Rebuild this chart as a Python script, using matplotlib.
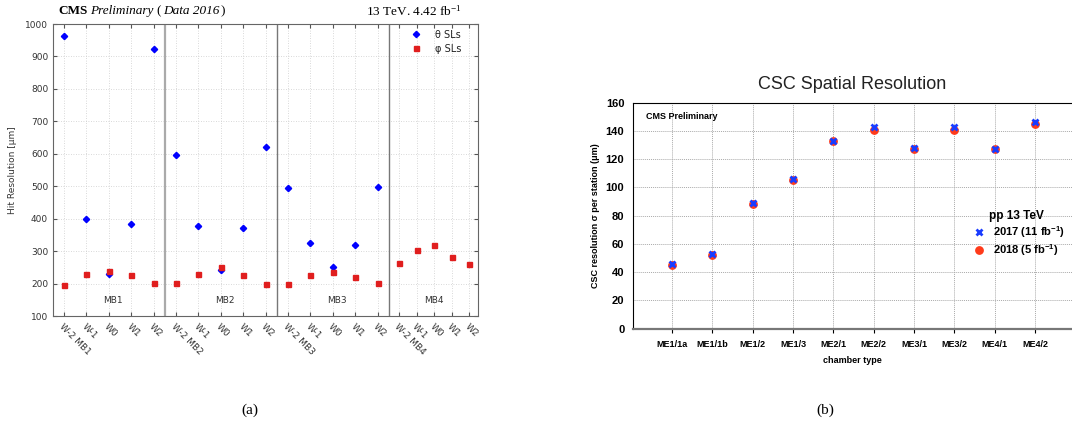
import matplotlib
matplotlib.use("Agg")
from matplotlib import pyplot as plt
from matplotlib import transforms

plt.rcParams["mathtext.fontset"] = "custom"
plt.rcParams["mathtext.rm"] = "Liberation Serif"
plt.rcParams["mathtext.it"] = "Liberation Serif:italic"
plt.rcParams["mathtext.bf"] = "Liberation Serif:bold"
plt.rcParams["mathtext.sf"] = "Liberation Sans:bold"

# ---- panel (a): DT hit resolution ----
wheels = ["W-2", "W-1", "W0", "W1", "W2"]
stations = ["MB1", "MB2", "MB3", "MB4"]
theta_sl = [[962, 400, 230, 385, 922],
            [595, 377, 241, 370, 620],
            [495, 325, 250, 320, 498]]
phi_sl = [[196, 228, 238, 227, 202],
          [203, 228, 251, 225, 200],
          [198, 225, 237, 221, 201],
          [262, 304, 319, 283, 259]]

# ---- panel (b): CSC spatial resolution ----
chambers = ["ME1/1a", "ME1/1b", "ME1/2", "ME1/3", "ME2/1",
            "ME2/2", "ME3/1", "ME3/2", "ME4/1", "ME4/2"]
res_2017 = [46, 53, 89, 106, 133, 143, 128, 143, 127, 146]
res_2018 = [45, 52, 88, 105, 133, 141, 127, 141, 127, 145]

fig = plt.figure(figsize=(10.72, 4.25), dpi=100)

# ---------------- (a) ----------------
ax = fig.add_axes([53/1072, 1-316/425, 425/1072, 292/425])
# the last station is drawn a bit squeezed, like in the original
xpos = []
for s in range(4):
    step = 0.78 if s == 3 else 1.0
    start = 5 * s if s < 3 else 14.97
    xpos.append([start + step * i for i in range(5)])

for s in range(3):
    ax.plot(xpos[s], theta_sl[s], ls="none", marker="D", ms=3.2,
            color="#0000ff", label="θ SLs" if s == 0 else None)
for s in range(4):
    ax.plot(xpos[s], phi_sl[s], ls="none", marker="s", ms=3.6,
            color="#e01e1e", label="φ SLs" if s == 0 else None)
for s in range(3):
    ax.axvline(5 * s + 4.5, color="#777777" if s else "#aaaaaa", lw=1.0 if s else 1.6)
for s in range(4):
    ax.text(xpos[s][2] + (0.2 if s < 3 else 0), 148, stations[s],
            ha="center", va="center", fontsize=6.5, color="#333333")

ticks, labels = [], []
for s in range(4):
    for i in range(5):
        ticks.append(xpos[s][i])
        labels.append(wheels[i] + (" " + stations[s] if i == 0 else ""))
ax.set_xticks(ticks)
ax.set_xticklabels(labels, rotation=-45, ha="left", va="top",
                   rotation_mode="anchor", fontsize=6.5, color="#333333")
ax.set_xlim(-0.49, 18.48)
ax.set_ylim(100, 1000)
ax.set_yticks(range(100, 1001, 100))
ax.tick_params(axis="y", labelsize=6.5, labelcolor="#333333", direction="in",
               right=True, length=3, color="#555555")
ax.tick_params(axis="x", direction="in", top=True, length=3, color="#555555", pad=4)
ax.grid(True, ls=(0, (1, 2)), color="#cccccc", lw=0.6)
for sp in ax.spines.values():
    sp.set_color("#666666")
ax.set_ylabel("Hit Resolution [μm]", fontsize=6.5, color="#333333", labelpad=6)
leg = ax.legend(loc="upper right", frameon=False, fontsize=7, handletextpad=1.0,
                markerscale=1.0, borderaxespad=0.3, borderpad=0.3,
                labelspacing=0.4, bbox_to_anchor=(0.975, 1.0))
for t in leg.get_texts():
    t.set_color("#222222")

# header: pieces in different styles, placed one after the other
renderer = fig.canvas.get_renderer()
pieces = [("CMS", "bold", "normal", 3), ("Preliminary", "normal", "italic", 3),
          ("(", "normal", "normal", 1.5), ("Data 2016", "normal", "italic", 1),
          (")", "normal", "normal", 0)]
xcur = 58
for txt, w, st, gap in pieces:
    t = fig.text(xcur/1072, 1-11/425, txt, fontsize=9.5, family="Liberation Serif",
                 fontweight=w, fontstyle=st, va="center", ha="left")
    xcur += t.get_window_extent(renderer).width + gap
fig.text(462/1072, 1-11/425, r"13 TeV. 4.42 fb$^{\mathrm{-1}}$",
         fontsize=9.5, family="Liberation Serif", va="center", ha="right")

# ---------------- (b) ----------------
bx = fig.add_axes([632.7/1072, 1-328.7/425, 1-632.7/1072, 226/425])
x = list(range(len(chambers)))
bx.plot(x, res_2018, ls="none", marker="o", ms=5.3, color="#ff3a1a",
        label=r"2018 (5 fb$^{\mathsf{-1}}$)")
bx.plot(x, res_2017, ls="none", marker="x", ms=4.6, mew=2, color="#1a3cff",
        label=r"2017 (11 fb$^{\mathsf{-1}}$)")
bx.set_xlim(-0.98, 9.92)
bx.set_ylim(0, 160)
bx.set_yticks(range(0, 161, 20))
bx.set_xticks(x)
bx.set_xticklabels(chambers, fontsize=6.5, fontweight="bold", family="Liberation Sans")
off = transforms.ScaledTranslation(4/100, 0, fig.dpi_scale_trans)
for lab in bx.get_xticklabels():
    lab.set_transform(lab.get_transform() + off)
for lab in bx.get_yticklabels():
    lab.set_fontweight("bold")
    lab.set_fontsize(8)
    lab.set_family("Liberation Sans")
bx.tick_params(axis="y", length=0, pad=6)
bx.tick_params(axis="x", length=3, pad=5)
bx.grid(True, ls=(0, (1, 1)), color="#aaaaaa", lw=0.7)
bx.spines["right"].set_visible(False)
bx.spines["bottom"].set_color("#777777")
bx.spines["bottom"].set_linewidth(1.6)
bx.set_xlabel("chamber type", fontsize=6.5, fontweight="bold", family="Liberation Sans", labelpad=5)
bx.set_ylabel("CSC resolution σ per station (μm)", fontsize=6.5, fontweight="bold",
              family="Liberation Sans", labelpad=4)
bx.set_title("CSC Spatial Resolution", fontsize=13, family="Liberation Sans", pad=10, color="#222222")
bx.text(0.03, 0.94, "CMS Preliminary", transform=bx.transAxes, fontsize=6.5,
        fontweight="bold", family="Liberation Sans", va="center")
h, l = bx.get_legend_handles_labels()
lg = bx.legend(h[::-1], l[::-1], title="pp 13 TeV", loc="center right",
               bbox_to_anchor=(1.0, 0.42), frameon=False, handletextpad=0.3,
               borderaxespad=0.2, labelspacing=0.25,
               prop={"family": "Liberation Sans", "weight": "bold", "size": 8})
lg.get_title().set_fontweight("bold")
lg.get_title().set_fontsize(8.5)
lg.get_title().set_family("Liberation Sans")

fig.text(250/1072, 1-410/425, "(a)", fontsize=11, family="Liberation Serif", ha="center", va="center")
fig.text(825/1072, 1-410/425, "(b)", fontsize=11, family="Liberation Serif", ha="center", va="center")

fig.savefig("out.png", dpi=100)
